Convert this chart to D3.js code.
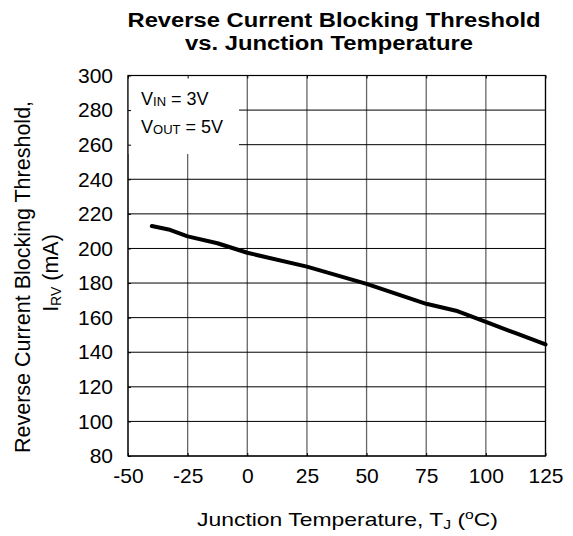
<!DOCTYPE html>
<meta charset="utf-8">
<style>
body { margin: 0; background: #fff; }
text { font-family: "Liberation Sans", Arial, sans-serif; fill: #000; }
.axis path { display: none; }
.axis line { stroke: #000; }
</style>
<body>
<script src="https://d3js.org/d3.v7.min.js"></script>
<script>
// data
var temps = [-40, -33, -25, -12.5, 0, 25, 50, 75, 87.5, 100, 112.5, 125];
var irv = [213, 211, 207, 203, 197.5, 189.5, 179.5, 168, 164, 157.5, 151, 144.5];
var xTicks = [-50, -25, 0, 25, 50, 75, 100, 125];
var yTicks = [80, 100, 120, 140, 160, 180, 200, 220, 240, 260, 280, 300];

var W = 573, H = 536;
var pl = 128, pr = 545.5, pt = 75.5, pb = 456;

var svg = d3.select("body").append("svg")
    .attr("width", W)
    .attr("height", H);

var x = d3.scaleLinear().domain([-50, 125]).range([pl, pr]);
var y = d3.scaleLinear().domain([80, 300]).range([pb, pt]);

// grid
svg.append("g")
    .selectAll("line")
    .data(xTicks)
  .enter().append("line")
    .attr("x1", function(d) { return x(d); })
    .attr("x2", function(d) { return x(d); })
    .attr("y1", pt)
    .attr("y2", pb)
    .style("stroke", "#666")
    .style("stroke-width", 1.3);

svg.append("g")
    .selectAll("line")
    .data(yTicks)
  .enter().append("line")
    .attr("x1", pl)
    .attr("x2", pr)
    .attr("y1", function(d) { return y(d); })
    .attr("y2", function(d) { return y(d); })
    .style("stroke", "#000")
    .style("stroke-width", 1);

// white box behind the conditions text
svg.append("rect")
    .attr("x", pl)
    .attr("y", pt)
    .attr("width", 111)
    .attr("height", 78.5)
    .style("fill", "#fff");

// axes with small inward ticks
svg.append("g")
    .attr("class", "axis")
    .attr("transform", "translate(" + pl + ",0)")
    .call(d3.axisLeft(y).tickValues(yTicks).tickSize(-3).tickPadding(15).tickFormat(String))
    .selectAll("text")
      .style("font-size", "21px")
      .style("font-family", "'Liberation Sans', Arial, sans-serif");

svg.append("g")
    .attr("class", "axis")
    .attr("transform", "translate(0," + pb + ")")
    .call(d3.axisBottom(x).tickValues(xTicks).tickSize(-3).tickPadding(12).tickFormat(String))
    .selectAll("text")
      .style("font-size", "21px")
      .style("font-family", "'Liberation Sans', Arial, sans-serif");

svg.append("g")
    .attr("class", "axis")
    .attr("transform", "translate(0," + pt + ")")
    .call(d3.axisTop(x).tickValues(xTicks).tickSize(-3).tickFormat(""));

// frame
svg.append("rect")
    .attr("x", pl)
    .attr("y", pt)
    .attr("width", pr - pl)
    .attr("height", pb - pt)
    .style("fill", "none")
    .style("stroke", "#000")
    .style("stroke-width", 1.2);

// curve
var line = d3.line()
    .x(function(d, i) { return x(temps[i]); })
    .y(function(d) { return y(d); });

svg.append("path")
    .datum(irv)
    .attr("d", line)
    .style("fill", "none")
    .style("stroke", "#000")
    .style("stroke-width", 4)
    .style("stroke-linejoin", "round")
    .style("stroke-linecap", "round");

// conditions
function cond(yy, sub, val) {
  var t = svg.append("text")
      .attr("x", 141)
      .attr("y", yy)
      .style("font-size", "18px");
  t.append("tspan").text("V");
  t.append("tspan").attr("dy", 1).style("font-size", "13px").text(sub);
  t.append("tspan").attr("dy", -1).text(" = " + val);
}
cond(105, "IN", "3V");
cond(133, "OUT", "5V");

// title
svg.append("text")
    .attr("x", 334)
    .attr("y", 27)
    .attr("text-anchor", "middle")
    .attr("textLength", 413)
    .attr("lengthAdjust", "spacingAndGlyphs")
    .style("font-size", "20px")
    .style("font-weight", "bold")
    .text("Reverse Current Blocking Threshold");

svg.append("text")
    .attr("x", 329)
    .attr("y", 50)
    .attr("text-anchor", "middle")
    .attr("textLength", 288)
    .attr("lengthAdjust", "spacingAndGlyphs")
    .style("font-size", "20px")
    .style("font-weight", "bold")
    .text("vs. Junction Temperature");

// x title
var xt = svg.append("text")
    .attr("x", 197)
    .attr("y", 526)
    .style("font-size", "19px")
    .attr("textLength", 301)
    .attr("lengthAdjust", "spacingAndGlyphs");
xt.append("tspan").text("Junction Temperature, T");
xt.append("tspan").attr("dy", 3).style("font-size", "13px").text("J");
xt.append("tspan").attr("dy", -3).text(" (");
xt.append("tspan").attr("dy", -7).style("font-size", "13px").text("o");
xt.append("tspan").attr("dy", 7).text("C)");

// y title
svg.append("text")
    .attr("transform", "translate(30,277) rotate(-90)")
    .attr("text-anchor", "middle")
    .style("font-size", "21.5px")
    .text("Reverse Current Blocking Threshold,");

var yt = svg.append("text")
    .attr("transform", "translate(58,273) rotate(-90)")
    .attr("text-anchor", "middle")
    .style("font-size", "21.5px");
yt.append("tspan").text("I");
yt.append("tspan").attr("dy", 3).style("font-size", "14px").text("RV");
yt.append("tspan").attr("dy", -3).text(" (mA)");
</script>
